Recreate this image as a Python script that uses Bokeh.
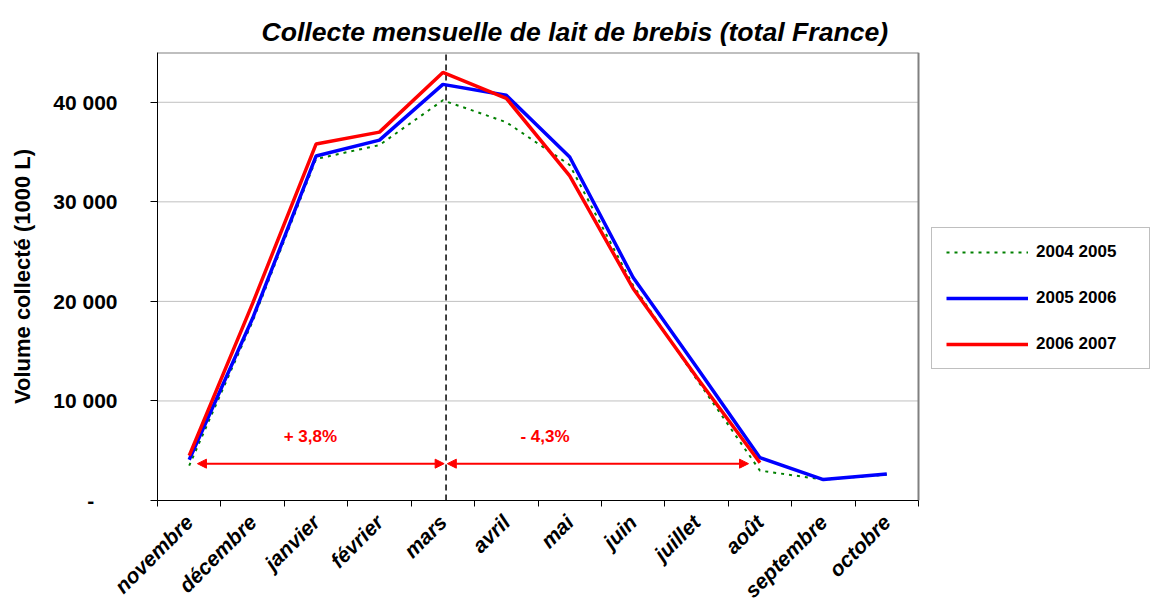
import math
from bokeh.plotting import figure
from bokeh.models import (Range1d, FixedTicker, Legend, LegendItem, Arrow, NormalHead,
                          Title, ColumnDataSource)
from bokeh.core.properties import value
from bokeh.embed import file_html
from bokeh.resources import INLINE

# ---------------- data ----------------
months = ["novembre", "décembre", "janvier", "février", "mars", "avril",
          "mai", "juin", "juillet", "août", "septembre", "octobre"]
s_2004_2005 = [3500, 18000, 34300, 35700, 40200, 38000, 33700, 21600, 12200, 3000, 2100, 2600]
s_2005_2006 = [4100, 18300, 34600, 36200, 41800, 40700, 34500, 22400, 13400, 4300, 2100, 2650]
s_2006_2007 = [4500, 19800, 35800, 37000, 43000, 40400, 32600, 21300, 12400, 3800]
series_names = ["2004 2005", "2005 2006", "2006 2007"]
y_ticks = [0, 10000, 20000, 30000, 40000]
y_tick_labels = ["-\u00a0\u00a0\u00a0\u00a0", "10 000", "20 000", "30 000", "40 000"]
y_max = 45000
split_x = 4.55            # separation (mars)
arrow_y = 3700
left_arrow = (0.63, 4.52)
right_arrow = (4.57, 9.32)
pct_labels = ["+ 3,8%", "- 4,3%"]
pct_x = [2.41, 6.11]
pct_y = [6400, 6400]

FONT = "Liberation Sans"

n = len(months)
xs = [i + 0.5 for i in range(n)]

# layout geometry (pixels)
FIG_W, FIG_H = 1150, 612
LEFT, TOP, BOTTOM = 157, 52, 112
PLOT_W = 761                       # width of the data area in px
x_end = n * (FIG_W - LEFT) / PLOT_W   # frame extends to the right to host the legend

p = figure(width=FIG_W, height=FIG_H, output_backend="svg", toolbar_location=None,
           x_range=Range1d(0, x_end), y_range=Range1d(0, y_max),
           min_border_left=LEFT, min_border_right=0, min_border_top=TOP, min_border_bottom=BOTTOM)
p.background_fill_color = "white"
p.border_fill_color = "white"
p.outline_line_color = None

# title
t = Title(text="Collecte mensuelle de lait de brebis (total France)", align="left",
          offset=104, text_font=FONT, text_font_style="bold italic", text_font_size="26.6px",
          text_color="black", standoff=11)
p.add_layout(t, "above")

# grids (drawn only across the data area)
p.xgrid.visible = False
p.ygrid.visible = False
gy = y_ticks[1:]
p.segment(x0=[0] * len(gy), y0=gy, x1=[n] * len(gy), y1=gy, line_color="#c0c0c0", line_width=1)
# plot-area border (top and right)
p.segment(x0=[0, n], y0=[y_max, 0], x1=[n, n], y1=[y_max, y_max], line_color="#808080", line_width=2)

# y axis
p.yaxis.ticker = FixedTicker(ticks=y_ticks)
p.yaxis.major_label_overrides = {v: l for v, l in zip(y_ticks, y_tick_labels)}
p.yaxis.major_label_text_font = FONT
p.yaxis.major_label_text_font_style = "bold"
p.yaxis.major_label_text_font_size = "21px"
p.yaxis.major_label_text_color = "black"
p.yaxis.major_label_standoff = 33
p.yaxis.major_tick_out = 7
p.yaxis.major_tick_in = 0
p.yaxis.minor_tick_out = 0
p.yaxis.minor_tick_in = 0
p.yaxis.axis_line_color = "black"
p.yaxis.major_tick_line_color = "black"
p.yaxis.axis_label = "Volume collecté (1000 L)"
p.yaxis.axis_label_text_font = FONT
p.yaxis.axis_label_text_font_style = "bold"
p.yaxis.axis_label_text_font_size = "22px"
p.yaxis.axis_label_text_color = "black"
p.yaxis.axis_label_standoff = 15

# x axis: labels at centres, ticks at boundaries
p.xaxis.ticker = FixedTicker(ticks=xs, minor_ticks=list(range(n + 1)))
p.xaxis.bounds = (0, n)
p.xaxis.major_label_overrides = {x: m for x, m in zip(xs, months)}
p.xaxis.major_label_orientation = math.pi / 4
p.xaxis.major_label_text_font = FONT
p.xaxis.major_label_text_font_style = "bold italic"
p.xaxis.major_label_text_font_size = "21px"
p.xaxis.major_label_text_color = "black"
p.xaxis.major_label_standoff = 12
p.xaxis.major_tick_out = 0
p.xaxis.major_tick_in = 0
p.xaxis.minor_tick_out = 6
p.xaxis.minor_tick_in = 0
p.xaxis.minor_tick_line_color = "black"
p.xaxis.axis_line_color = "black"

# split line
p.line([split_x, split_x], [0, y_max], line_color="black", line_width=1.5, line_dash="6 4")

# series
r1 = p.line(xs[:len(s_2004_2005)], s_2004_2005, line_color="#008000", line_width=2, line_dash="3 5")
r2 = p.line(xs[:len(s_2005_2006)], s_2005_2006, line_color="#0000FF", line_width=3.5)
r3 = p.line(xs[:len(s_2006_2007)], s_2006_2007, line_color="#FF0000", line_width=3.5)

# arrows
for (a, b) in (left_arrow, right_arrow):
    p.add_layout(Arrow(x_start=a, y_start=arrow_y, x_end=b, y_end=arrow_y,
                       line_color="#FF0000", line_width=2,
                       start=NormalHead(size=9, fill_color="#FF0000", line_color="#FF0000"),
                       end=NormalHead(size=9, fill_color="#FF0000", line_color="#FF0000")))

src = ColumnDataSource(dict(x=pct_x, y=pct_y, t=pct_labels))
p.text(x="x", y="y", text="t", source=src, text_color="#FF0000",
       text_font=value(FONT), text_font_style="bold", text_font_size="17px",
       text_align="center", text_baseline="middle")

legend = Legend(items=[LegendItem(label=nm, renderers=[r]) for nm, r in zip(series_names, [r1, r2, r3])],
                location=(774, 131))
legend.border_line_color = "#808080"
legend.border_line_width = 1.5
legend.background_fill_color = "white"
legend.label_text_font = FONT
legend.label_text_font_style = "bold"
legend.label_text_font_size = "17px"
legend.label_text_color = "black"
legend.padding = 14
legend.spacing = 26
legend.glyph_height = 18
legend.glyph_width = 82
legend.label_standoff = 8
legend.label_width = 99
legend.margin = 0
p.add_layout(legend)

open("out.html", "w").write(file_html(p, INLINE))
